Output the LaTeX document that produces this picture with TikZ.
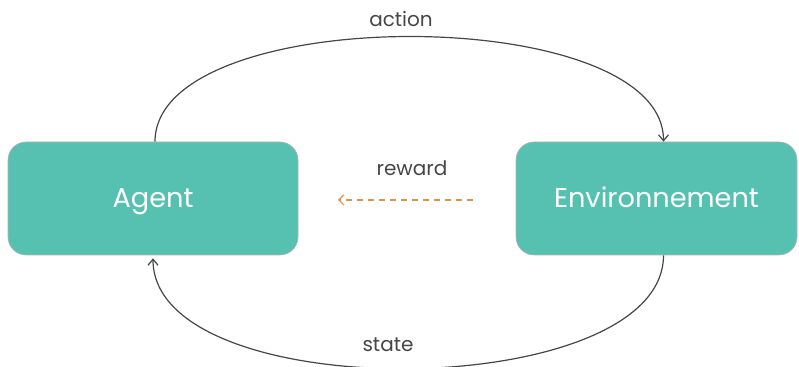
\documentclass[tikz,border=0pt]{standalone}
\usepackage{fontspec}
\setmainfont{Poppins}
\usepackage{xcolor}
\usetikzlibrary{arrows.meta, positioning}
\definecolor{teal box}{RGB}{87,193,177}
\definecolor{line grey}{RGB}{70,70,70}
\definecolor{reward tan}{RGB}{212,150,85}
\begin{document}
\begin{tikzpicture}[x=0.5pt, y=0.5pt]
	
	\tikzset{state box/.style={
			draw=gray!60, line width=0.3pt,
			fill=teal box,
			rounded corners=9pt,
			minimum height=56.5pt,
			text=white,
			font=\fontsize{13.6}{15}\selectfont,
			text height=9.5pt, text depth=0pt,
			inner sep=0pt
		},
		loop arrow/.style={
			draw=line grey, line width=0.6pt,
			-{Straight Barb[length=3pt, width=5pt]}
		},
		loop label/.style={
			text=line grey,
			font=\fontsize{10}{12}\selectfont
		}
	}
	
	\useasboundingbox (0,0) rectangle (799,367);
	
	\node[state box, minimum width=145pt] (agent) at (153,168.5) {Agent};
	\node[state box, minimum width=140.5pt] (env) at (656.5,168.5) {Environnement};
	
	\draw[loop arrow] ([xshift=1pt]agent.north) .. controls +(0,140) and +(0,140) .. ([xshift=3.5pt]env.north);
	\draw[loop arrow] ([xshift=3.5pt]env.south) .. controls +(0,-148) and +(0,-150) .. ([yshift=-1.5pt]agent.south);
	
	\node[loop label] (action) at (401,348) {action};
	\node[loop label] (state) at (388,22) {state};
	\node[loop label] (reward) at (412,199) {reward};
	
	\coordinate (reward start) at (473,167);
	\coordinate (reward end) at (338,167);
	\draw[reward tan, line width=0.6pt, dash pattern=on 3pt off 2.5pt, -{Straight Barb[length=2.5pt, width=5pt]}] (reward start) -- (reward end);
	
\end{tikzpicture}
\end{document}
